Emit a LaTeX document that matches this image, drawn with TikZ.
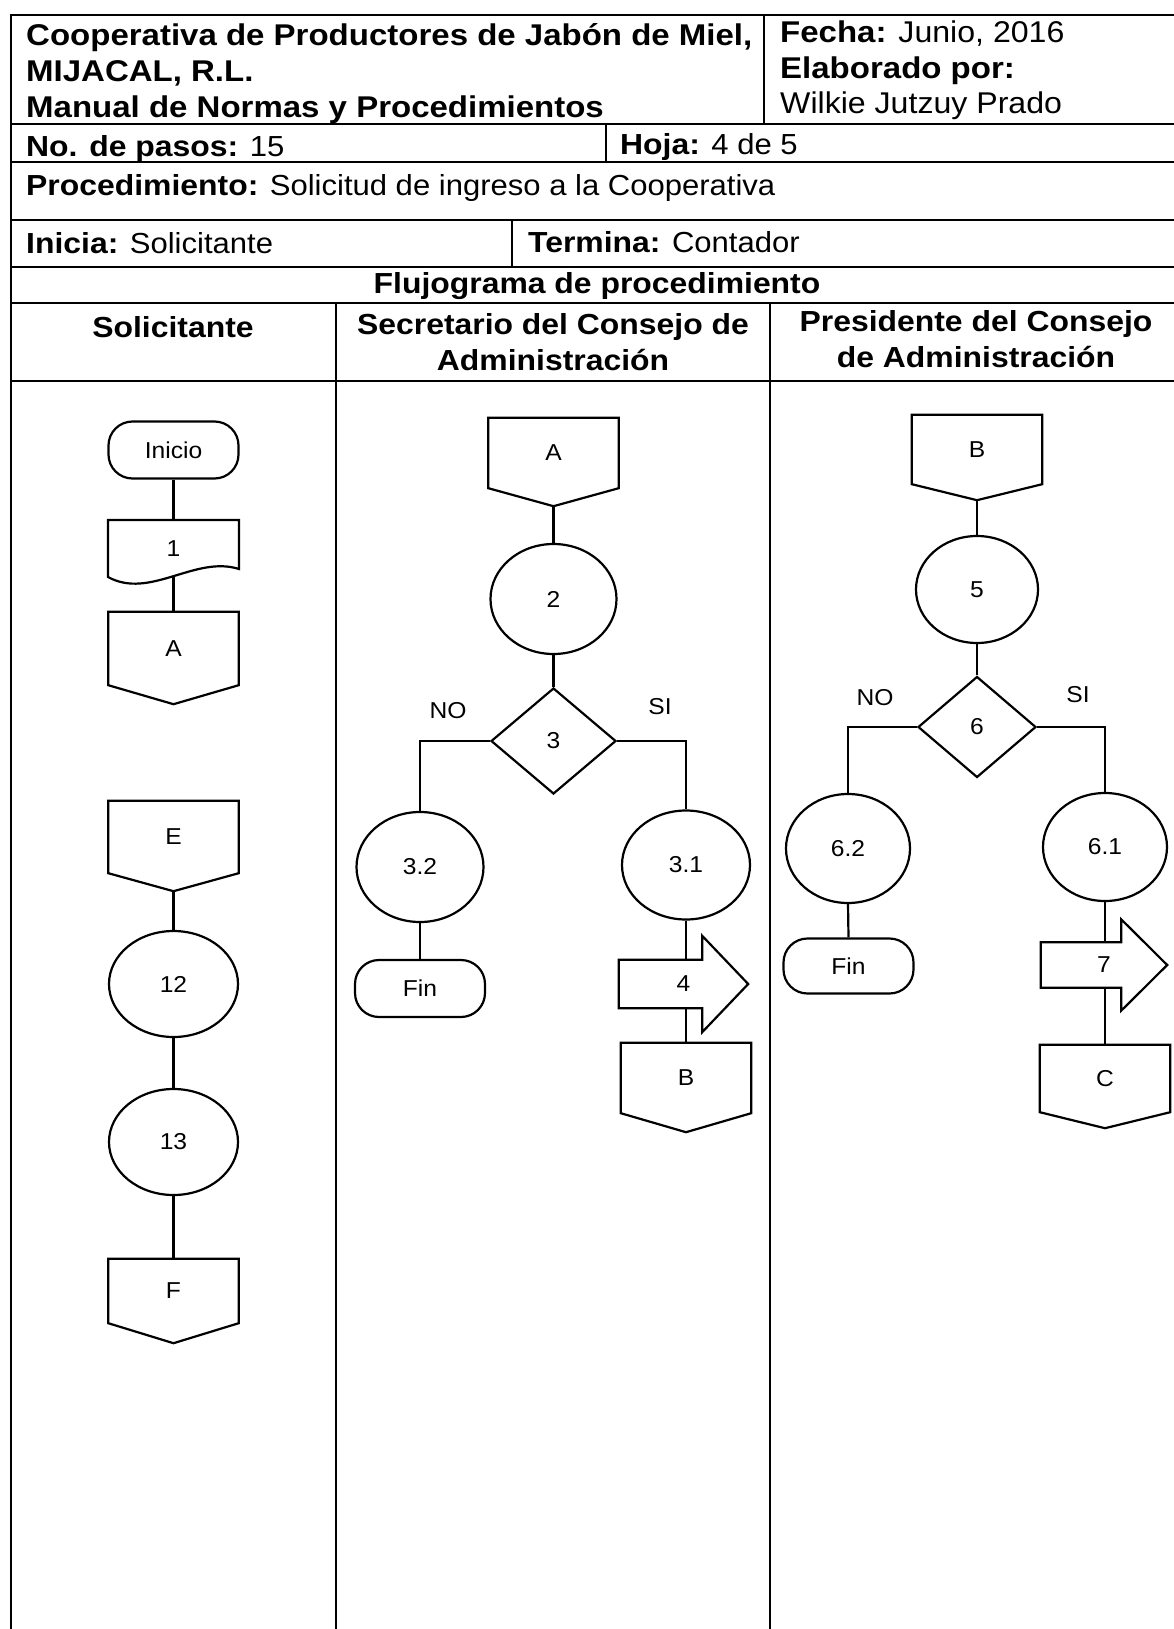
\documentclass[tikz,border=0pt]{standalone}
\usepackage{fontspec}
\setmainfont{Liberation Sans}[FakeStretch=1.07, BoldFeatures={FakeStretch=1.10}]
\usetikzlibrary{shapes.geometric,calc}

\tikzset{
  shapeline/.style={line width=2.2pt, line join=miter},
  conn/.style={line width=2.2pt},
  gridline/.style={line width=1.6pt},
  body/.style={font=\fontsize{23}{27}\selectfont},
  offbody/.style={body, rectangle, minimum width=130pt, inner sep=0pt},
  term/.style={body, draw, shapeline, rectangle, rounded corners=24pt,
               minimum width=130pt, minimum height=57pt, inner sep=0pt},
  proc/.style={body, draw, shapeline, ellipse, inner sep=0pt},
  decis/.style={body, draw, shapeline, diamond, inner sep=0pt},
  hdr/.style={font=\fontsize{30}{36}\selectfont, inner sep=0pt, anchor=base west},
  hdrsm/.style={font=\fontsize{29}{35}\selectfont, inner sep=0pt, anchor=base west},
  lanehd/.style={font=\fontsize{29}{35}\selectfont\bfseries, inner sep=0pt, anchor=base},
  lbl/.style={body, inner sep=0pt},
  arrbody/.style={body, rectangle, inner sep=0pt},
}

% off-page connector: name, x, y of body centre, body height, tip depth, text
\newcommand\offpg[6]{%
  \node[offbody, minimum height=#4pt] (#1) at (#2,#3) {#6};
  \coordinate (#1-tip) at ($(#1.south)+(0,#5)$);
  \draw[shapeline] (#1.north west) -- (#1.north east) -- (#1.south east)
    -- (#1-tip) -- (#1.south west) -- cycle;
}

% block arrow drawn over its node: name of the node, head length, head overhang
\newcommand\blockarrow[3]{%
  \draw[shapeline, fill=white] (#1.north west) -- ($(#1.north east)+(-#2,0)$)
    -- ++(0,-#3) -- (#1.east) -- ($(#1.south east)+(-#2,#3)$)
    -- ($(#1.south east)+(-#2,0)$) -- (#1.south west) -- cycle;
}

\begin{document}
\begin{tikzpicture}[x=1pt,y=-1pt]
\useasboundingbox (0,0) rectangle (1173,1629);
\fill[white] (0,0) rectangle (1173,1629);

% ---------- form grid ----------
\draw[gridline] (11,1629) -- (11,15) -- (1180,15);
\foreach \yy in {124,162,220,267,303,381}
  \draw[gridline] (11,\yy) -- (1180,\yy);
\draw[gridline] (764,15) -- (764,124);
\draw[gridline] (606,124) -- (606,162);
\draw[gridline] (512,220) -- (512,267);
\draw[gridline] (336,303) -- (336,1629);
\draw[gridline] (770,303) -- (770,1629);

% ---------- header texts ----------
\node[hdr] (t1) at (26,46) {\textbf{Cooperativa de Productores de Jabón de Miel,}};
\node[hdr] (t2) at (26,82) {\textbf{MIJACAL, R.L.}};
\node[hdr] (t3) at (26,118) {\textbf{Manual de Normas y Procedimientos}};
\node[hdr] (t4) at (780,43) {\textbf{Fecha:} Junio, 2016};
\node[hdr] (t5) at (780,79) {\textbf{Elaborado por:}};
\node[hdr] (t6) at (780,114) {Wilkie Jutzuy Prado};
\node[hdrsm] (t7) at (26,157) {\textbf{No. de pasos:} 15};
\node[hdrsm] (t8) at (620,155) {\textbf{Hoja:} 4 de 5};
\node[hdrsm] (t9) at (26,196) {\textbf{Procedimiento:} Solicitud de ingreso a la Cooperativa};
\node[hdrsm] (t10) at (26,254) {\textbf{Inicia:} Solicitante};
\node[hdrsm] (t11) at (528,252) {\textbf{Termina:} Contador};
\node[lanehd] (t12) at (597,293) {Flujograma de procedimiento};
\node[lanehd] (l1) at (173,337) {Solicitante};
\node[lanehd] (l2a) at (553,334) {Secretario del Consejo de};
\node[lanehd] (l2b) at (553,370) {Administración};
\node[lanehd] (l3a) at (976,331) {Presidente del Consejo};
\node[lanehd] (l3b) at (976,367) {de Administración};

% ---------- lane 1: Solicitante ----------
\node[term] (ini) at (173.5,450) {Inicio};
\node[arrbody, minimum width=131pt, minimum height=57pt] (d1) at (173.5,548.5) {1};
\draw[shapeline] (108,577) -- (108,520) -- (239,520) -- (239,569)
  .. controls (195,555) and (150,600) .. (108,577) -- cycle;
\offpg{cA1}{173.5}{648.5}{73}{19}{A}
\offpg{cE}{173.5}{837}{72}{18}{E}
\node[proc, minimum width=129pt, minimum height=106pt] (e12) at (173.5,984) {12};
\node[proc, minimum width=129pt, minimum height=106pt] (e13) at (173.5,1142) {13};
\offpg{cF}{173.5}{1291}{64}{20}{F}

\draw[conn] (ini.south) -- (d1.north);
\draw[conn] (d1.south) -- (cA1.north);
\draw[conn] (cE-tip) -- (e12.north);
\draw[conn] (e12.south) -- (e13.north);
\draw[conn] (e13.south) -- (cF.north);

% ---------- lane 2: Secretario ----------
\offpg{cA2}{553.5}{453}{70}{18}{A}
\node[proc, minimum width=126pt, minimum height=110pt] (e2) at (553.5,599) {2};
\node[decis, minimum width=125pt, minimum height=106pt] (dm3) at (553.5,741) {3};
\node[lbl] (no3) at (448,711) {NO};
\node[lbl] (si3) at (660,707) {SI};
\node[proc, minimum width=127pt, minimum height=110pt] (e32) at (420,867) {3.2};
\node[term] (fin1) at (420,988.5) {Fin};
\node[proc, minimum width=128pt, minimum height=109pt] (e31) at (686,865) {3.1};
\node[arrbody, minimum width=129pt, minimum height=48pt] (a4) at (683.5,984) {};
\offpg{cB1}{686}{1078}{70}{19}{B}

\draw[conn] (cA2-tip) -- (e2.north);
\draw[conn] (e2.south) -- (dm3.north);
\draw[conn] (dm3.west) -| (e32.north);
\draw[conn] (dm3.east) -| (e31.north);
\draw[conn] (e32.south) -- (fin1.north);
\draw[conn] (e31.south) -- (cB1.north);
\blockarrow{a4}{46}{24}
\node[lbl] (a4t) at (a4.center) {4};

% ---------- lane 3: Presidente ----------
\offpg{cB2}{977}{449.5}{69}{16}{B}
\node[proc, minimum width=122pt, minimum height=107pt] (e5) at (977,589.5) {5};
\node[decis, minimum width=118pt, minimum height=101pt] (dm6) at (977,727) {6};
\node[lbl] (no6) at (875,698) {NO};
\node[lbl] (si6) at (1078,695) {SI};
\node[proc, minimum width=124pt, minimum height=109pt] (e62) at (848,848.5) {6.2};
\node[term, minimum height=55pt] (fin2) at (848.5,966) {Fin};
\node[proc, minimum width=124pt, minimum height=108pt] (e61) at (1105,847) {6.1};
\node[arrbody, minimum width=126pt, minimum height=45pt] (a7) at (1104,965) {};
\offpg{cC}{1105}{1078.5}{67}{16}{C}

\draw[conn] (cB2-tip) -- (e5.north);
\draw[conn] (e5.south) -- (dm6.north);
\draw[conn] (dm6.west) -| (e62.north);
\draw[conn] (dm6.east) -| (e61.north);
\draw[conn] (e62.south) -- (fin2.north);
\draw[conn] (e61.south) -- (cC.north);
\blockarrow{a7}{46}{23}
\node[lbl] (a7t) at (a7.center) {7};

\end{tikzpicture}
\end{document}
